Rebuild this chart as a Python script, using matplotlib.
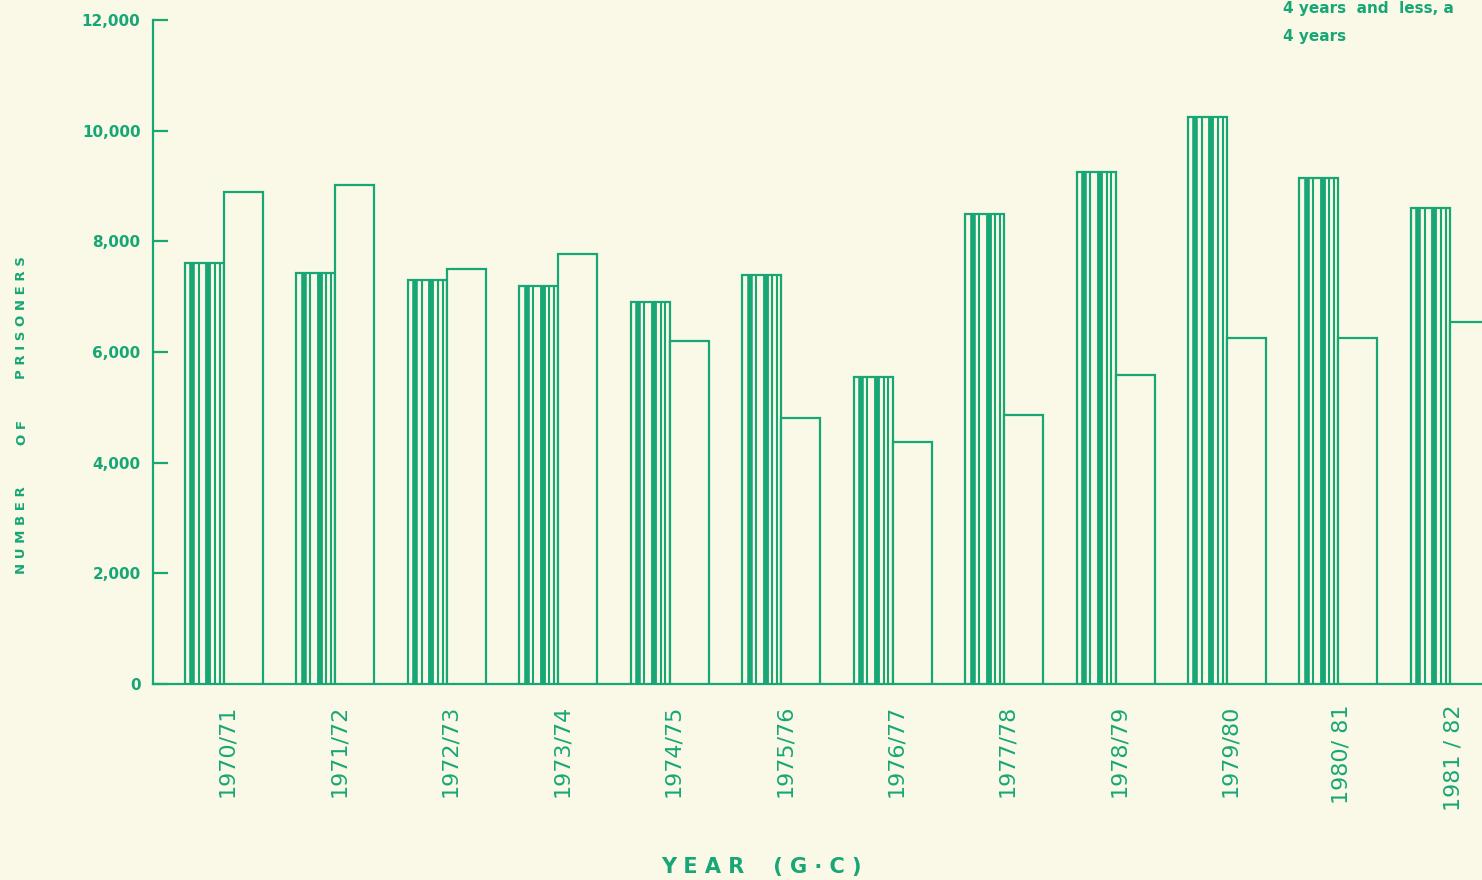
import matplotlib.pyplot as plt
import numpy as np

# prisoners by sentence length, per year (G.C.)
years = ['1970/71', '1971/72', '1972/73', '1973/74', '1974/75', '1975/76',
         '1976/77', '1977/78', '1978/79', '1979/80', '1980/ 81', '1981 / 82']
four_and_less = [7600, 7420, 7300, 7200, 6900, 7400, 5550, 8500, 9250, 10250, 9150, 8600]
more_than_four = [8900, 9020, 7500, 7780, 6200, 4800, 4380, 4860, 5580, 6250, 6250, 6550]

green = '#17a776'
paper = '#faf8e6'
width = 0.35

fig = plt.figure(figsize=(14.82, 8.80), dpi=100, facecolor=paper)
ax = fig.add_axes([153 / 1482, 196 / 880, 1 - 153 / 1482, 664 / 880])
ax.set_facecolor(paper)

x = np.arange(len(years))

# striped bars: outline plus uneven vertical rulings
ax.bar(x - width, four_and_less, width, align='edge', facecolor=paper,
       edgecolor=green, linewidth=1.6, zorder=3)
stripes = [(0.19, 4.0), (0.35, 1.5), (0.60, 4.2), (0.77, 1.5), (0.89, 1.5)]
for xi, h in zip(x, four_and_less):
    for frac, lw in stripes:
        ax.vlines(xi - width + frac * width, 0, h, color=green, linewidth=lw, zorder=4)

# open bars
ax.bar(x, more_than_four, width, align='edge', facecolor=paper,
       edgecolor=green, linewidth=1.6, zorder=3)

ax.set_xlim(-0.637, 11.288)
ax.set_ylim(0, 12000)
ax.set_yticks(range(0, 12001, 2000))
ax.set_yticklabels([f'{v:,}' for v in range(0, 12001, 2000)])
ax.set_xticks(x + 0.03)
ax.set_xticklabels(years, rotation=90, fontsize=16, color=green)

for side in ['top', 'right']:
    ax.spines[side].set_visible(False)
for side in ['left', 'bottom']:
    ax.spines[side].set_color(green)
    ax.spines[side].set_linewidth(1.6)

ax.tick_params(axis='y', direction='in', length=11, width=1.6, color=green,
               labelcolor=green, labelsize=11, pad=9)
ax.tick_params(axis='x', length=0, pad=15)
for lab in ax.get_yticklabels():
    lab.set_fontweight('bold')

# axis titles
fig.text(761 / 1482, 1 - 867 / 880, 'Y E A R    ( G · C )', color=green,
         fontsize=15, fontweight='bold', ha='center', va='center')
for word, yc in [('N U M B E R', 530), ('O F', 432), ('P R I S O N E R S', 318)]:
    fig.text(22 / 1482, 1 - yc / 880, word, color=green, fontsize=9.5,
             fontweight='bold', rotation=90, ha='center', va='center')

# key text in the upper right corner
fig.text(1283 / 1482, 1 - 13 / 880, '4 years  and  less, a', color=green,
         fontsize=11, fontweight='bold', ha='left', va='baseline')
fig.text(1283 / 1482, 1 - 41 / 880, '4 years', color=green,
         fontsize=11, fontweight='bold', ha='left', va='baseline')

fig.savefig('out.png', dpi=100, facecolor=paper)
